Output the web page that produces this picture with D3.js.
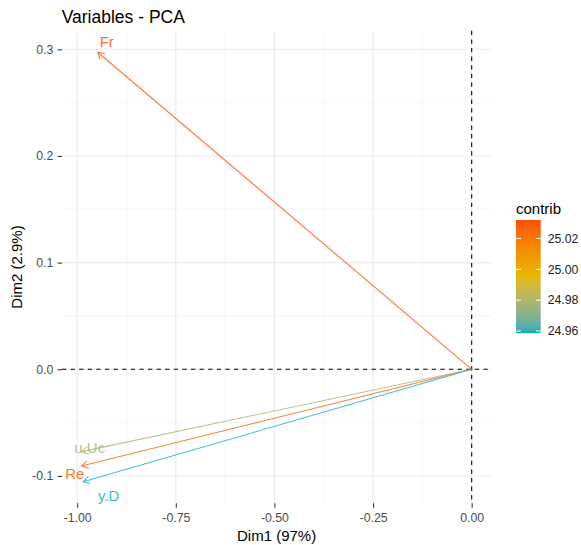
<!DOCTYPE html>
<html>
<head>
<meta charset="utf-8">
<script src="https://cdn.jsdelivr.net/npm/d3@7"></script>
<style>
  html, body { margin: 0; padding: 0; background: #fff; }
  svg { display: block; font-family: "Liberation Sans", Arial, Helvetica, sans-serif; }
</style>
</head>
<body>
<svg id="chart" width="581" height="545"></svg>
<script>
// ---- data ----
const variables = ["Fr", "u.Uc", "Re", "y.D"];
const dim1 = [-0.948, -0.989, -0.989, -0.985];
const dim2 = [0.2972, -0.0772, -0.0907, -0.1054];
const contrib = [25.032, 24.978, 25.028, 24.959];
// repelled label positions (data units)
const labelDim1 = [-0.925, -0.968, -1.006, -0.920];
const labelDim2 = [0.3068, -0.0738, -0.0980, -0.1186];
const xTicks = [-1.00, -0.75, -0.50, -0.25, 0.00];
const xMinor = [-0.875, -0.625, -0.375, -0.125];
const yTicks = [-0.1, 0.0, 0.1, 0.2, 0.3];
const yMinor = [-0.05, 0.05, 0.15, 0.25];
const legendTicks = [24.96, 24.98, 25.00, 25.02];
const gradientColors = ["#00AFBB", "#E7B800", "#FC4E07"];

// ---- layout ----
const panel = { left: 62, right: 491.2, top: 30.8, bottom: 503.2 };
const svg = d3.select("#chart");
const FONT_AXIS = 12.3;

function expanded(vals) {
  const e = d3.extent(vals);
  const p = 0.05 * (e[1] - e[0]);
  return [e[0] - p, e[1] + p];
}
const x = d3.scaleLinear().domain(expanded(dim1.concat([0]))).range([panel.left, panel.right]);
const y = d3.scaleLinear().domain(expanded(dim2.concat([0]))).range([panel.bottom, panel.top]);

const cMin = d3.min(contrib.concat([24.9587])), cMax = d3.max(contrib);
const color = d3.scaleLinear()
  .domain([cMin, (cMin + cMax) / 2, cMax])
  .range(gradientColors)
  .interpolate(d3.interpolateLab);

// ---- grid ----
const grid = svg.append("g");
grid.selectAll(".xminor").data(xMinor).join("line")
  .attr("x1", d => x(d)).attr("x2", d => x(d))
  .attr("y1", panel.top).attr("y2", panel.bottom)
  .attr("stroke", "#EBEBEB").attr("stroke-width", 0.55);
grid.selectAll(".yminor").data(yMinor).join("line")
  .attr("y1", d => y(d)).attr("y2", d => y(d))
  .attr("x1", panel.left).attr("x2", panel.right)
  .attr("stroke", "#EBEBEB").attr("stroke-width", 0.55);
grid.selectAll(".xmajor").data(xTicks).join("line")
  .attr("x1", d => x(d)).attr("x2", d => x(d))
  .attr("y1", panel.top).attr("y2", panel.bottom)
  .attr("stroke", "#EBEBEB").attr("stroke-width", 1.07);
grid.selectAll(".ymajor").data(yTicks).join("line")
  .attr("y1", d => y(d)).attr("y2", d => y(d))
  .attr("x1", panel.left).attr("x2", panel.right)
  .attr("stroke", "#EBEBEB").attr("stroke-width", 1.07);

// ---- zero dashed lines ----
svg.append("line")
  .attr("x1", panel.left).attr("x2", panel.right)
  .attr("y1", y(0)).attr("y2", y(0))
  .attr("stroke", "#000").attr("stroke-width", 1.07).attr("stroke-dasharray", "4.3,4.3");
svg.append("line")
  .attr("x1", x(0)).attr("x2", x(0))
  .attr("y1", panel.top).attr("y2", panel.bottom)
  .attr("stroke", "#000").attr("stroke-width", 1.07).attr("stroke-dasharray", "4.3,4.3");

// ---- axes ----
const xAxis = d3.axisBottom(x).tickValues(xTicks).tickFormat(d => d.toFixed(2))
  .tickSize(4.5).tickPadding(5.2);
const gx = svg.append("g").attr("transform", `translate(0,${panel.bottom})`).call(xAxis);
const yAxis = d3.axisLeft(y).tickValues(yTicks).tickFormat(d => d.toFixed(1))
  .tickSize(4.5).tickPadding(4.2);
const gy = svg.append("g").attr("transform", `translate(${panel.left},0)`).call(yAxis);
[gx, gy].forEach(g => {
  g.select(".domain").remove();
  g.selectAll(".tick line").attr("stroke", "#333").attr("stroke-width", 1.07);
  g.selectAll(".tick text").attr("fill", "#4D4D4D")
    .style("font-size", FONT_AXIS + "px")
    .style("font-family", '"Liberation Sans", Arial, sans-serif');
});

// ---- arrows ----
const idx = d3.range(variables.length);
const arrows = svg.append("g").attr("opacity", 0.78);
const headLen = 7.2, headAng = Math.PI / 6;
idx.forEach(i => {
  const x0 = x(0), y0 = y(0), x1 = x(dim1[i]), y1 = y(dim2[i]);
  const col = color(contrib[i]);
  arrows.append("line")
    .attr("x1", x0).attr("y1", y0).attr("x2", x1).attr("y2", y1)
    .attr("stroke", col).attr("stroke-width", 1.07);
  const a = Math.atan2(y0 - y1, x0 - x1);
  const p1 = [x1 + headLen * Math.cos(a + headAng), y1 + headLen * Math.sin(a + headAng)];
  const p2 = [x1 + headLen * Math.cos(a - headAng), y1 + headLen * Math.sin(a - headAng)];
  arrows.append("path")
    .attr("d", `M${p1[0]},${p1[1]}L${x1},${y1}L${p2[0]},${p2[1]}`)
    .attr("fill", "none").attr("stroke", col).attr("stroke-width", 1.07)
    .attr("stroke-linejoin", "round").attr("stroke-linecap", "round");
});

// ---- labels ----
svg.append("g").attr("opacity", 0.82).selectAll("text").data(idx).join("text")
  .attr("x", i => x(labelDim1[i]))
  .attr("y", i => y(labelDim2[i]))
  .attr("dy", "0.36em")
  .attr("text-anchor", "middle")
  .attr("fill", i => color(contrib[i]))
  .style("font-size", "15px")
  .text(i => variables[i]);

// ---- titles ----
svg.append("text").attr("x", 61.7).attr("y", 22.7)
  .style("font-size", "17.5px").attr("fill", "#000").text("Variables - PCA");
svg.append("text").attr("x", (panel.left + panel.right) / 2).attr("y", 541)
  .attr("text-anchor", "middle").style("font-size", "15px").attr("fill", "#000")
  .text("Dim1 (97%)");
svg.append("text")
  .attr("transform", `translate(22,${(panel.top + panel.bottom) / 2}) rotate(-90)`)
  .attr("text-anchor", "middle").style("font-size", "15px").attr("fill", "#000")
  .text("Dim2 (2.9%)");

// ---- legend ----
const leg = { x: 516, w: 24.7, top: 220, bottom: 333 };
const ly = d3.scaleLinear().domain([cMin, cMax]).range([leg.bottom, leg.top]);
const defs = svg.append("defs");
const grad = defs.append("linearGradient").attr("id", "cgrad")
  .attr("x1", 0).attr("y1", 1).attr("x2", 0).attr("y2", 0);
d3.range(0, 1.0001, 0.02).forEach(t => {
  grad.append("stop").attr("offset", t)
    .attr("stop-color", color(cMin + t * (cMax - cMin)));
});
svg.append("rect").attr("x", leg.x).attr("y", leg.top)
  .attr("width", leg.w).attr("height", leg.bottom - leg.top)
  .attr("fill", "url(#cgrad)");
const lt = svg.append("g");
legendTicks.forEach(v => {
  const yy = ly(v);
  lt.append("line").attr("x1", leg.x).attr("x2", leg.x + leg.w / 5)
    .attr("y1", yy).attr("y2", yy).attr("stroke", "#fff").attr("stroke-width", 1);
  lt.append("line").attr("x1", leg.x + leg.w - leg.w / 5).attr("x2", leg.x + leg.w)
    .attr("y1", yy).attr("y2", yy).attr("stroke", "#fff").attr("stroke-width", 1);
  lt.append("text").attr("x", 547.7).attr("y", yy).attr("dy", "0.35em")
    .style("font-size", FONT_AXIS + "px").attr("fill", "#222")
    .text(v.toFixed(2));
});
svg.append("text").attr("x", 516).attr("y", 214)
  .style("font-size", "15px").attr("fill", "#000").text("contrib");
</script>
</body>
</html>
